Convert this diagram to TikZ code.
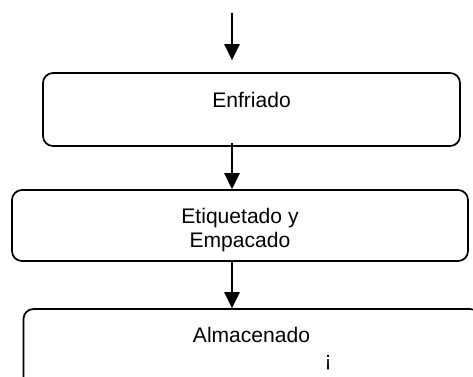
\documentclass[tikz,border=0pt]{standalone}
\usepackage{fontspec}
\setmainfont{Liberation Sans}
\usetikzlibrary{arrows.meta,positioning}

\begin{document}
\begin{tikzpicture}[x=0.75pt,y=-0.75pt]
		\tikzstyle{stage}=[draw=black, line width=1.3pt, rounded corners=7.5pt, inner sep=0pt]
		\tikzstyle{stage_text}=[draw=none, fill=none, inner sep=0pt, align=center, font=\fontsize{15.8}{18}\selectfont]
		\tikzstyle{flow}=[line width=1.3pt, -{Triangle[width=11.5pt,length=12pt]}]

		\useasboundingbox (0,0) rectangle (473,376);
		\clip (0,0) rectangle (473,376);

		\begin{scope}
			\coordinate (start) at (232,13);

			\node [stage, minimum width=312.75pt, minimum height=54.75pt] (enfr) at (251.5,109.5) {};
			\node [stage_text, anchor=base] (enfr_text) at (251.5,107) {Enfriado};

			\node [stage, minimum width=342pt, minimum height=53.25pt] (etiq) at (240,225.5) {};
			\node [stage_text] (etiq_text) at (240,230) {Etiquetado y\\Empacado};

			\node [stage, minimum width=342.4pt, minimum height=60pt] (alma) at (251.75,349) {};
			\node [stage_text, anchor=base] (alma_text) at (251.5,342) {Almacenado};
			\node [stage_text, anchor=base] (alma_mark) at (328,366) {¡};
		\end{scope}

		\draw [flow, shorten >=9pt] (start) -- (enfr.north -| start);
		\draw [flow] ([yshift=3pt]enfr.south -| start) -- (etiq.north -| start);
		\draw [flow] (etiq.south -| start) -- (alma.north -| start);

	\end{tikzpicture}
\end{document}
